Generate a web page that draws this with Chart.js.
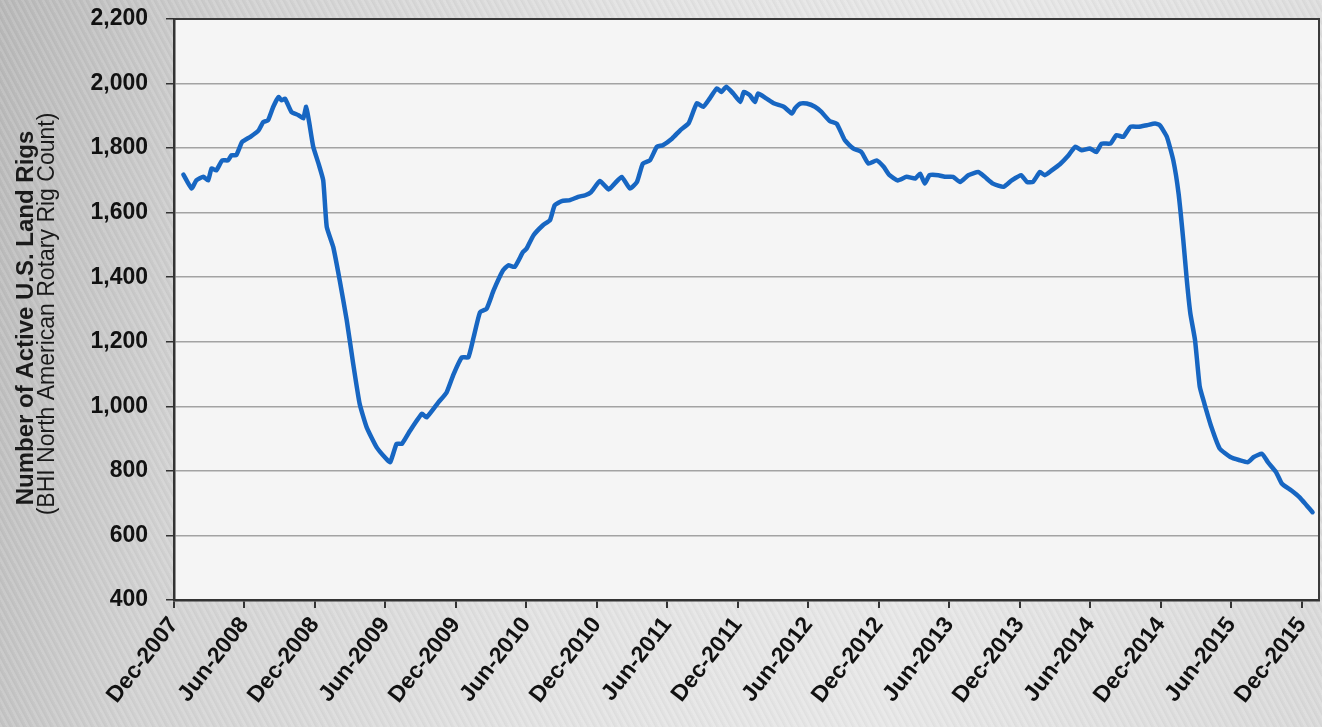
<!DOCTYPE html>
<html>
<head>
<meta charset="utf-8">
<title>U.S. Land Rig Count</title>
<script src="https://cdn.jsdelivr.net/npm/chart.js@4/dist/chart.umd.min.js"></script>
<style>
  html, body { margin: 0; padding: 0; }
  body {
    width: 1322px; height: 727px; overflow: hidden;
    background:
      repeating-linear-gradient(62deg, rgba(255,255,255,0.10) 0px, rgba(255,255,255,0.10) 2px, rgba(0,0,0,0.03) 3px, rgba(0,0,0,0) 6px),
      linear-gradient(100deg, #b9b9b9 0%, #d3d3d3 18%, #e3e3e3 45%, #e8e8e8 70%, #dadada 100%);
  }
  #wrap { position: absolute; left: 0; top: 0; width: 1322px; height: 727px; }
</style>
</head>
<body>
<div id="wrap"><canvas id="rigChart" width="1322" height="727"></canvas></div>
<script>
// ===== DATA =====
// months after Dec-2007
const months = [
  0.8, 1.5, 1.9, 2.5, 2.9, 3.2, 3.6, 4.1, 4.6, 4.9, 5.3, 5.8, 6.5, 7.2, 7.6, 8.0, 8.45, 8.9, 9.15, 9.45,
  10.0, 10.6, 11.0, 11.25, 11.5, 11.85, 12.3, 12.7, 13.0, 13.55, 14.1, 14.7, 15.25, 15.8, 16.4, 17.25, 18.0, 18.4, 18.95, 19.4,
  20.1, 21.1, 21.5, 22.5, 23.2, 23.8, 24.5, 25.05, 25.5, 26.05, 26.6, 27.2, 28.0, 28.45, 29.0, 29.7, 30.0, 30.6, 31.4, 32.0,
  32.4, 33.0, 33.7, 34.4, 35.0, 35.5, 36.25, 37.0, 37.5, 38.1, 38.8, 39.4, 39.9, 40.5, 41.1, 41.6, 42.4, 43.1, 43.8, 44.5,
  45.05, 45.6, 46.2, 46.6, 47.0, 47.6, 48.2, 48.5, 49.0, 49.45, 49.7, 50.4, 51.1, 51.9, 52.6, 52.85, 53.3, 53.85, 54.55, 55.1,
  55.8, 56.4, 57.1, 57.8, 58.5, 59.1, 59.8, 60.4, 60.9, 61.6, 62.35, 63.1, 63.5, 63.9, 64.3, 65.05, 65.6, 66.3, 66.9, 67.6,
  68.45, 69.0, 69.7, 70.6, 71.3, 72.1, 72.6, 73.1, 73.7, 74.1, 74.7, 75.4, 76.1, 76.7, 77.25, 77.95, 78.5, 78.95, 79.7, 80.2,
  80.8, 81.4, 82.1, 82.8, 83.5, 83.9, 84.5, 85.05, 85.5, 85.9, 86.2, 86.5, 86.9, 87.3, 87.7, 88.3, 89.0, 89.9, 90.7, 91.4,
  91.9, 92.6, 93.1, 93.8, 94.3, 95.1, 95.8, 96.4, 96.9
];
const rigs = [
  1718, 1675, 1700, 1711, 1700, 1737, 1731, 1762, 1762, 1778, 1778, 1819, 1835, 1855, 1881, 1886, 1928, 1958, 1948, 1953,
  1912, 1902, 1892, 1928, 1881, 1804, 1752, 1700, 1556, 1494, 1391, 1267, 1132, 1008, 935, 873, 840, 827, 884, 884,
  925, 977, 966, 1012, 1043, 1100, 1152, 1152, 1214, 1292, 1302, 1359, 1421, 1437, 1432, 1478, 1488, 1530, 1561, 1577,
  1623, 1636, 1639, 1649, 1654, 1664, 1698, 1672, 1690, 1711, 1675, 1695, 1752, 1762, 1804, 1809, 1830, 1856, 1877, 1939,
  1928, 1954, 1985, 1974, 1990, 1969, 1943, 1974, 1964, 1943, 1969, 1954, 1938, 1928, 1907, 1923, 1938, 1938, 1928, 1912,
  1884, 1876, 1824, 1799, 1788, 1752, 1762, 1742, 1716, 1700, 1711, 1706, 1721, 1690, 1716, 1716, 1711, 1711, 1695, 1716,
  1726, 1711, 1690, 1680, 1700, 1716, 1695, 1695, 1726, 1716, 1731, 1750, 1776, 1804, 1793, 1799, 1788, 1814, 1814, 1840,
  1835, 1866, 1866, 1871, 1876, 1871, 1835, 1762, 1659, 1515, 1391, 1288, 1205, 1061, 1008, 935, 869, 843, 833, 827,
  843, 853, 827, 796, 760, 739, 718, 693, 672
];
const tickLabels = [
  "Dec-2007", "Jun-2008", "Dec-2008", "Jun-2009", "Dec-2009", "Jun-2010", "Dec-2010", "Jun-2011", "Dec-2011",
  "Jun-2012", "Dec-2012", "Jun-2013", "Dec-2013", "Jun-2014", "Dec-2014", "Jun-2015", "Dec-2015"
];
const yTitle = ["Number of Active U.S. Land Rigs", "(BHI North American Rotary Rig Count)"];

// ===== HELPERS =====
const $ = (id) => document.getElementById(id);
const FONT = "'Liberation Sans', Arial, sans-serif";

// light plot background + box border
const plotFrame = {
  id: "plotFrame",
  beforeDraw(chart) {
    const { ctx, chartArea: a } = chart;
    ctx.save();
    ctx.fillStyle = "#f5f5f5";
    ctx.fillRect(a.left, a.top, a.right - a.left, a.bottom - a.top);
    ctx.restore();
  },
  afterDatasetsDraw(chart) {
    const { ctx, chartArea: a } = chart;
    ctx.save();
    ctx.strokeStyle = "#3a3a3a";
    ctx.lineWidth = 2;
    ctx.beginPath();
    ctx.moveTo(a.left, a.top); ctx.lineTo(a.right, a.top); ctx.lineTo(a.right, a.bottom);
    ctx.stroke();
    ctx.restore();
  }
};

// two-line rotated y title (bold + regular)
const sideTitle = {
  id: "sideTitle",
  afterDraw(chart) {
    const { ctx } = chart;
    const cy = 318;
    ctx.save();
    ctx.fillStyle = "#1a1a1a";
    ctx.textAlign = "center";
    ctx.textBaseline = "middle";
    ctx.translate(26, cy); ctx.rotate(-Math.PI / 2);
    ctx.font = "bold 24px " + FONT;
    ctx.fillText(yTitle[0], 0, 0);
    ctx.restore();
    ctx.save();
    ctx.fillStyle = "#1a1a1a";
    ctx.textAlign = "center";
    ctx.textBaseline = "middle";
    ctx.translate(48, cy - 4); ctx.rotate(-Math.PI / 2);
    ctx.font = "23px " + FONT;
    ctx.fillText(yTitle[1], 0, 0);
    ctx.restore();
  }
};

new Chart($("rigChart").getContext("2d"), {
  type: "line",
  data: {
    datasets: [{
      data: months.map((m, i) => ({ x: m, y: rigs[i] })),
      borderColor: "#1766c2",
      borderWidth: 4.5,
      pointRadius: 0,
      tension: 0.15,
      borderJoinStyle: "round",
      borderCapStyle: "round"
    }]
  },
  options: {
    responsive: false,
    animation: false,
    layout: { padding: { top: 19, right: 3, left: 0, bottom: 0 } },
    plugins: { legend: { display: false }, tooltip: { enabled: false } },
    scales: {
      x: {
        type: "linear",
        min: 0, max: 97.45,
        afterBuildTicks: (s) => { s.ticks = tickLabels.map((_, i) => ({ value: i * 6 })); },
        afterFit: (s) => { s.height = 127; s.paddingLeft = 0; s.paddingRight = 0; },
        ticks: {
          callback: (v) => tickLabels[Math.round(v / 6)] || "",
          minRotation: 52, maxRotation: 52,
          color: "#111",
          padding: 4,
          font: { family: FONT, size: 23, weight: "bold" }
        },
        grid: { drawOnChartArea: false, drawTicks: true, tickLength: 8, color: "#333", lineWidth: 2 },
        border: { display: true, color: "#333", width: 2.5 }
      },
      y: {
        min: 400, max: 2200,
        afterFit: (s) => { s.width = 174; s.paddingTop = 0; s.paddingBottom = 0; },
        ticks: {
          stepSize: 200,
          color: "#111",
          padding: 18,
          font: { family: FONT, size: 23, weight: "bold" }
        },
        grid: { color: "#a3a3a3", lineWidth: 1.5, tickLength: 8, tickColor: "#333" },
        border: { display: true, color: "#333", width: 2.5 }
      }
    }
  },
  plugins: [plotFrame, sideTitle]
});
</script>
</body>
</html>
